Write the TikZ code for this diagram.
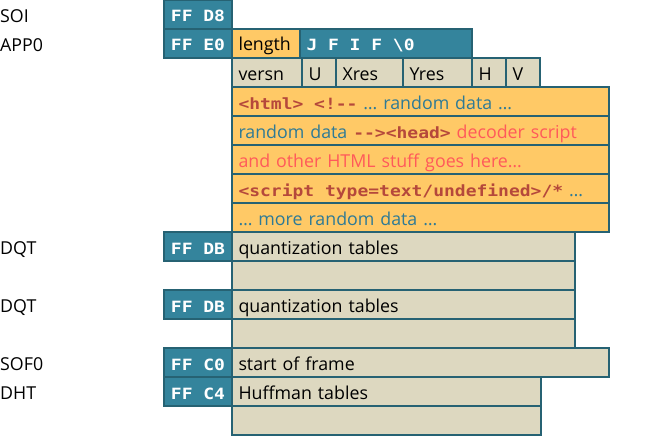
\documentclass[tikz,border=0pt]{standalone}
\usepackage{fontspec}
\setmainfont{Open Sans}
\newfontfamily\codefont[FakeStretch=1.16,Ligatures=TeXOff]{DejaVu Sans Mono}
\usepackage{xcolor}
\usetikzlibrary{positioning}

\definecolor{segteal}{RGB}{52,132,156}
\definecolor{segedge}{RGB}{38,98,115}
\definecolor{segorange}{RGB}{255,201,102}
\definecolor{segbeige}{RGB}{221,216,192}
\definecolor{htmlred}{RGB}{181,72,59}
\definecolor{datateal}{RGB}{46,122,150}
\definecolor{scriptpink}{RGB}{255,90,90}

\newcommand{\code}[1]{{\fontsize{15.5}{18}\selectfont\codefont\bfseries #1}}
\newcommand{\csp}{\hspace*{10.8pt}}

\begin{document}
\begin{tikzpicture}[x=1pt, y=-1pt,
    field/.style={draw=segedge, line width=1.2pt, anchor=north west, minimum height=29pt,
        inner xsep=6.5pt, inner ysep=0pt, outer sep=0pt, align=left, text width={#1pt-13pt},
        text height=20pt, text depth=5pt, font=\fontsize{17.8}{20}\selectfont},
    marker/.style={field=#1, fill=segteal, text=white, align=center,
        font=\fontsize{15.5}{18}\selectfont\codefont\bfseries},
    header/.style={field=#1, fill=segorange},
    body/.style={field=#1, fill=segbeige},
    segname/.style={anchor=base west, inner sep=0pt, font=\fontsize{17.8}{20}\selectfont}
]
    \useasboundingbox (0,0) rectangle (668,436);

    % SOI
    \node[segname] (soiname) at (0,22.5) {SOI};
    \node[marker=68] (soi) at (164,0) {FF\csp D8};

    % APP0
    \node[segname] (appname) at (0,51.5) {APP0};
    \node[marker=68] (app) at (164,29) {FF\csp E0};
    \node[header=68] (applen) at (232,29) {length};
    \node[marker=172, align=left] (jfif) at (300,29) {J\csp F\csp I\csp F\csp\textbackslash0};

    % APP0 fields
    \node[body=70] (versn) at (232,58) {versn};
    \node[body=34] (units) at (302,58) {U};
    \node[body=67] (xres) at (336,58) {Xres};
    \node[body=69] (yres) at (403,58) {Yres};
    \node[body=34] (hthumb) at (472,58) {H};
    \node[body=34] (vthumb) at (506,58) {V};

    % thumbnail data with html
    \node[header=377] (htmla) at (232,87)
        {\mbox{\textcolor{htmlred}{\code{<html>\csp<!--}} \textcolor{datateal}{… random data …}}};
    \node[header=377] (htmlb) at (232,116)
        {\mbox{\textcolor{datateal}{random data} \textcolor{htmlred}{\code{--><head>}} \textcolor{scriptpink}{decoder script}}};
    \node[header=377] (htmlc) at (232,145)
        {\mbox{\textcolor{scriptpink}{and other HTML stuff goes here…}}};
    \node[header=377] (htmld) at (232,174)
        {\mbox{\textcolor{htmlred}{\code{<script\csp type=text/undefined>/*}} \textcolor{datateal}{…}}};
    \node[header=377] (htmle) at (232,203)
        {\mbox{\textcolor{datateal}{… more random data …}}};

    % DQT
    \node[segname] (dqtaname) at (0,254.5) {DQT};
    \node[marker=68] (dqta) at (164,232) {FF\csp DB};
    \node[body=343] (qta) at (232,232) {quantization tables};
    \node[body=343] (qtarest) at (232,261) {};

    % DQT
    \node[segname] (dqtbname) at (0,312.5) {DQT};
    \node[marker=68] (dqtb) at (164,290) {FF\csp DB};
    \node[body=343] (qtb) at (232,290) {quantization tables};
    \node[body=343] (qtbrest) at (232,319) {};

    % SOF0
    \node[segname] (sofname) at (0,370.5) {SOF0};
    \node[marker=68] (sof) at (164,348) {FF\csp C0};
    \node[body=377] (frame) at (232,348) {start of frame};

    % DHT
    \node[segname] (dhtname) at (0,399.5) {DHT};
    \node[marker=68] (dht) at (164,377) {FF\csp C4};
    \node[body=309] (huff) at (232,377) {Huffman tables};
    \node[body=309] (huffrest) at (232,406) {};
\end{tikzpicture}
\end{document}
